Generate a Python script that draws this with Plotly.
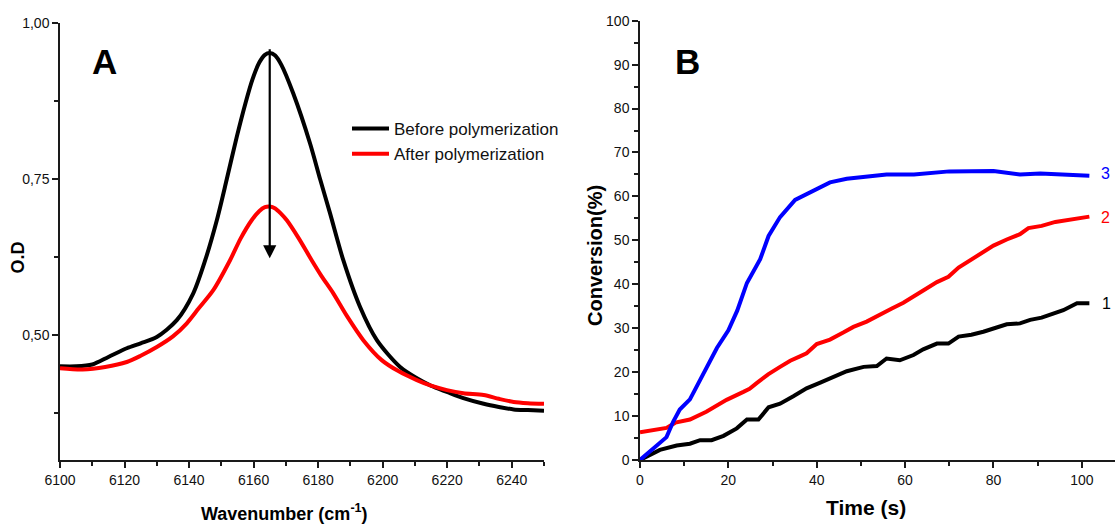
import plotly.graph_objects as go

# ---------------- Panel A data (FT-NIR spectrum) ----------------
wn_before = [6100, 6105, 6110, 6115, 6120.7, 6125, 6130, 6136.2, 6141.3, 6145, 6148.6, 6151.7,
             6154.8, 6157.5, 6159.6, 6161.8, 6163.5, 6165, 6166.7, 6168.6, 6172.3, 6177.5, 6180.6,
             6183.7, 6187.8, 6193, 6198.2, 6205.4, 6210.6, 6215, 6219.9, 6225, 6231.3, 6236,
             6240.6, 6245, 6250]
od_before = [0.450, 0.450, 0.453, 0.465, 0.479, 0.487, 0.497, 0.524, 0.567, 0.620, 0.684, 0.750,
             0.818, 0.872, 0.909, 0.937, 0.949, 0.952, 0.948, 0.933, 0.887, 0.807, 0.750,
             0.695, 0.620, 0.545, 0.492, 0.449, 0.431, 0.419, 0.409, 0.399, 0.390, 0.385,
             0.381, 0.380, 0.379]

wn_after = [6100, 6107, 6114, 6120.7, 6125, 6130, 6135, 6139.3, 6143, 6147.5, 6152.7, 6156,
            6159.4, 6161.8, 6163.5, 6165, 6166.7, 6168.4, 6170.3, 6174, 6178, 6181, 6184.7, 6189,
            6194, 6199.7, 6205, 6210.6, 6215, 6219.9, 6225, 6231.3, 6236, 6240.6, 6245, 6250]
od_after = [0.447, 0.445, 0.449, 0.457, 0.467, 0.481, 0.498, 0.519, 0.543, 0.572, 0.620, 0.655,
            0.684, 0.699, 0.705, 0.706, 0.703, 0.695, 0.684, 0.655, 0.620, 0.595, 0.567, 0.530,
            0.492, 0.460, 0.442, 0.428, 0.419, 0.412, 0.407, 0.404, 0.398, 0.393, 0.391, 0.390]

series_a_names = ["Before polymerization", "After polymerization"]
arrow_wn = 6165
arrow_top = 0.974
arrow_tip = 0.623

a_xticks = [6100, 6120, 6140, 6160, 6180, 6200, 6220, 6240]
a_xticktext = ["6100", "6120", "6140", "6160", "6180", "6200", "6220", "6240"]
a_yticks = [0.50, 0.75, 1.00]
a_yticktext = ["0,50", "0,75", "1,00"]

# ---------------- Panel B data (conversion vs time) ----------------
t1 = [0, 4.5, 8.3, 11.3, 13.6, 16.2, 18.9, 21.9, 24.2, 26.8, 29.1, 31.7, 34.7, 37.7, 40.8, 43.8,
      46.8, 50.6, 53.6, 55.8, 58.8, 61.9, 64.1, 67.2, 69.8, 72.1, 75, 77.7, 80, 83, 86, 88.3,
      90.9, 95.8, 98.9, 101.7]
c1 = [0, 2.3, 3.3, 3.7, 4.5, 4.5, 5.5, 7.2, 9.2, 9.2, 12.0, 12.8, 14.5, 16.3, 17.6, 19.0,
      20.2, 21.2, 21.4, 23.1, 22.7, 23.9, 25.2, 26.5, 26.5, 28.1, 28.5, 29.2, 30.0, 30.9, 31.1, 31.9,
      32.4, 34.1, 35.7, 35.7]

t2 = [0, 3, 6, 8, 11.3, 15, 19.6, 23.4, 24.8, 26.4, 29, 31.7, 34, 36.2, 37.7, 40, 43, 46, 48.3,
      51.3, 54.3, 57, 59.6, 62, 64.1, 67.2, 69.8, 72.1, 75, 77.7, 80, 83, 86, 87.9, 90.9, 94,
      97.4, 101.7]
c2 = [6.3, 6.7, 7.3, 8.5, 9.2, 11.0, 13.7, 15.5, 16.2, 17.5, 19.5, 21.2, 22.6, 23.6, 24.3, 26.4,
      27.4, 29.0, 30.3, 31.5, 33.2, 34.5, 35.8, 37.2, 38.6, 40.5, 41.7, 43.8, 45.6, 47.2, 48.8,
      50.2, 51.4, 52.8, 53.3, 54.2, 54.8, 55.4]

t3 = [0, 3, 6, 7.5, 9, 11.3, 14, 17.4, 20, 22, 24.2, 27.2, 29.1, 31.7, 35.1, 37.7, 40, 43, 46.8,
      50, 55.8, 62, 70, 80, 86, 90.6, 95.8, 101.7]
c3 = [0, 2.6, 5.2, 8.7, 11.5, 13.8, 19, 25.5, 29.5, 34, 40.3, 45.7, 51, 55.3, 59.2, 60.5, 61.9,
      63.2, 64.0, 64.4, 65.0, 65.0, 65.7, 65.8, 65.0, 65.2, 65.0, 64.7]

curve_labels = ["1", "2", "3"]
label_t = [105.5, 105.3, 105.3]
label_c = [35.6, 55.2, 65.2]

b_xticks = [0, 20, 40, 60, 80, 100]
b_xticktext = ["0", "20", "40", "60", "80", "100"]
b_yticks = [0, 10, 20, 30, 40, 50, 60, 70, 80, 90, 100]
b_yticktext = [str(v) for v in b_yticks]

BLACK = "#000000"
RED = "#ff0000"
BLUE = "#0000ff"
SANS = "Liberation Sans, Arial, sans-serif"

fig = go.Figure()

fig.add_trace(go.Scatter(x=wn_before, y=od_before, mode="lines", name=series_a_names[0],
                         line=dict(color=BLACK, width=4, shape="spline", smoothing=0.8),
                         xaxis="x", yaxis="y"))
fig.add_trace(go.Scatter(x=wn_after, y=od_after, mode="lines", name=series_a_names[1],
                         line=dict(color=RED, width=4, shape="spline", smoothing=0.8),
                         xaxis="x", yaxis="y"))

for t, c, col in [(t1, c1, BLACK), (t2, c2, RED), (t3, c3, BLUE)]:
    fig.add_trace(go.Scatter(x=t, y=c, mode="lines", showlegend=False,
                             line=dict(color=col, width=4), xaxis="x2", yaxis="y2"))

W, H = 1115, 526
def px_x(p):
    return p / W
def px_y(p):
    return 1 - p / H

axis_common = dict(showline=True, linecolor="#1a1a1a", linewidth=1.5, ticks="outside",
                   ticklen=6, tickwidth=1.5, tickcolor="#1a1a1a", showgrid=False,
                   zeroline=False, mirror=False, automargin=False,
                   tickfont=dict(family=SANS, size=14, color="#111"))
minor_common = dict(ticks="outside", ticklen=4, tickwidth=1.5, tickcolor="#1a1a1a")

fig.update_layout(
    width=W, height=H, autosize=False,
    margin=dict(l=0, r=0, t=0, b=0, autoexpand=False),
    paper_bgcolor="white", plot_bgcolor="white",
    showlegend=True,
    legend=dict(x=px_x(347), y=px_y(111), xanchor="left", yanchor="top",
                itemwidth=37,
                bgcolor="rgba(0,0,0,0)", font=dict(family=SANS, size=17, color="#111"),
                tracegroupgap=0),
    xaxis=dict(domain=[px_x(60), px_x(544)], range=[6100, 6250], anchor="y",
               tickvals=a_xticks, ticktext=a_xticktext,
               minor=dict(tick0=6100, dtick=10, **minor_common), **axis_common),
    yaxis=dict(domain=[px_y(460), px_y(23)], range=[0.30, 1.00], anchor="x",
               tickvals=a_yticks, ticktext=a_yticktext,
               minor=dict(tick0=0, dtick=0.125, **minor_common), **axis_common),
    xaxis2=dict(domain=[px_x(640), 1.0], range=[0, 107.5], anchor="y2",
                tickvals=b_xticks, ticktext=b_xticktext,
                minor=dict(tick0=0, dtick=10, **minor_common), **axis_common),
    yaxis2=dict(domain=[px_y(460), px_y(20.7)], range=[0, 100], anchor="x2",
                tickvals=b_yticks, ticktext=b_yticktext,
                minor=dict(tick0=0, dtick=5, **minor_common), **axis_common),
)

annotations = [
    # arrow in panel A
    dict(x=arrow_wn, y=arrow_tip, ax=arrow_wn, ay=arrow_top, xref="x", yref="y",
         axref="x", ayref="y", showarrow=True, arrowhead=2, arrowsize=1.2, arrowwidth=2.2,
         arrowcolor=BLACK, text=" "),
    # panel letters
    dict(x=px_x(104), y=px_y(61), xref="paper", yref="paper", text="<b>A</b>", showarrow=False,
         font=dict(family=SANS, size=35, color=BLACK), xanchor="center", yanchor="middle"),
    dict(x=px_x(687), y=px_y(61), xref="paper", yref="paper", text="<b>B</b>", showarrow=False,
         font=dict(family=SANS, size=35, color=BLACK), xanchor="center", yanchor="middle"),
    # axis titles
    dict(x=px_x(18), y=px_y(257.5), xref="paper", yref="paper", text="<b>O.D</b>",
         showarrow=False, textangle=-90, font=dict(family=SANS, size=18, color=BLACK),
         xanchor="center", yanchor="middle"),
    dict(x=px_x(284), y=px_y(512), xref="paper", yref="paper",
         text="<b>Wavenumber (cm<sup>-1</sup>)</b>", showarrow=False,
         font=dict(family=SANS, size=18, color=BLACK), xanchor="center", yanchor="middle"),
    dict(x=px_x(595), y=px_y(256), xref="paper", yref="paper", text="<b>Conversion(%)</b>",
         showarrow=False, textangle=-90, font=dict(family=SANS, size=20, color=BLACK),
         xanchor="center", yanchor="middle"),
    dict(x=px_x(866), y=px_y(507), xref="paper", yref="paper", text="<b>Time (s)</b>",
         showarrow=False, font=dict(family=SANS, size=21, color=BLACK),
         xanchor="center", yanchor="middle"),
]
for lab, tt, cc, col in zip(curve_labels, label_t, label_c, [BLACK, RED, BLUE]):
    annotations.append(dict(x=tt, y=cc, xref="x2", yref="y2", text=lab, showarrow=False,
                            font=dict(family=SANS, size=16, color=col),
                            xanchor="center", yanchor="middle"))
fig.update_layout(annotations=annotations)

fig.write_html("out.html")
